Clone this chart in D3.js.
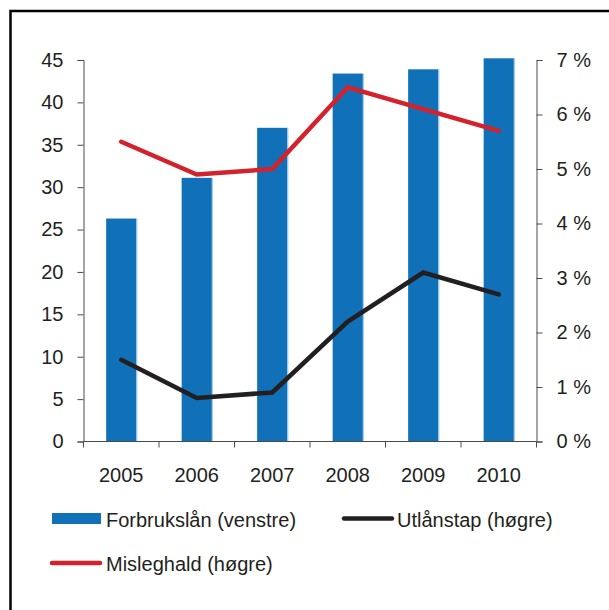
<!DOCTYPE html>
<html>
<head>
<meta charset="utf-8">
<script src="https://cdn.jsdelivr.net/npm/d3@7"></script>
<style>
  body { margin: 0; background: #fff; }
  svg text { font-family: "Liberation Sans", Arial, sans-serif; fill: #231f20; }
</style>
</head>
<body>
<div class="vis-holder"></div>
<script>
// data
const years = ['2005', '2006', '2007', '2008', '2009', '2010'];
const forbrukslan = [26.3, 31.1, 37.0, 43.4, 43.9, 45.2];     // left axis
const misleghald = [5.5, 4.9, 5.0, 6.5, 6.1, 5.7];            // right axis, %
const utlanstap = [1.5, 0.8, 0.9, 2.2, 3.1, 2.7];             // right axis, %
const leftTicks = [0, 5, 10, 15, 20, 25, 30, 35, 40, 45];
const rightTicks = [0, 1, 2, 3, 4, 5, 6, 7];

const width = 609, height = 610;
const plot = {left: 83.5, right: 536.5, top: 60, bottom: 441.5};
const fontSize = '20px';

const svg = d3.select('.vis-holder')
  .append('svg')
    .attr('width', width)
    .attr('height', height);

// outer frame (runs off the right and bottom edge)
svg.append('rect')
  .attr('x', 10.5).attr('y', 11)
  .attr('width', 605).attr('height', 610)
  .attr('fill', 'none')
  .attr('stroke', '#000')
  .attr('stroke-width', 2.5);

const x = d3.scaleBand()
  .domain(years)
  .range([plot.left, plot.right])
  .padding(0);

const yLeft = d3.scaleLinear().domain([0, 45]).range([plot.bottom, plot.top]);
const yRight = d3.scaleLinear().domain([0, 7]).range([plot.bottom, plot.top]);

// bars
const barW = x.bandwidth() * 0.4;
svg.selectAll('.bar')
  .data(years)
  .enter()
  .append('rect')
    .attr('class', 'bar')
    .attr('x', d => x(d) + (x.bandwidth() - barW) / 2)
    .attr('y', (d, i) => yLeft(forbrukslan[i]))
    .attr('width', barW)
    .attr('height', (d, i) => plot.bottom - yLeft(forbrukslan[i]))
    .attr('fill', '#1071b9');
svg.selectAll('.bar-edge')
  .data(years)
  .enter()
  .append('line')
    .attr('x1', d => x(d) + (x.bandwidth() + barW) / 2 + 0.5)
    .attr('x2', d => x(d) + (x.bandwidth() + barW) / 2 + 0.5)
    .attr('y1', (d, i) => yLeft(forbrukslan[i]))
    .attr('y2', plot.bottom)
    .attr('stroke', '#8ec2ea')
    .attr('stroke-width', 1);

// axes
const axisColor = '#4a4a4a';
function styleAxis(g) {
  g.selectAll('path, line').attr('stroke', axisColor);
  g.selectAll('text')
    .attr('font-size', fontSize)
    .attr('fill', '#231f20')
    .attr('font-family', '"Liberation Sans", Arial, sans-serif');
}

svg.append('g')
  .attr('transform', 'translate(' + plot.left + ',0)')
  .call(d3.axisLeft(yLeft).tickValues(leftTicks).tickSize(6).tickSizeOuter(6).tickPadding(14))
  .call(styleAxis);

svg.append('g')
  .attr('transform', 'translate(' + plot.right + ',0)')
  .call(d3.axisRight(yRight).tickValues(rightTicks).tickSize(6).tickSizeOuter(6).tickPadding(14)
    .tickFormat(d => d + ' %'))
  .call(styleAxis);

// x axis: ticks at category boundaries, labels at centres
const xAxisG = svg.append('g')
  .attr('transform', 'translate(0,' + plot.bottom + ')');
xAxisG.append('line')
  .attr('x1', plot.left).attr('x2', plot.right)
  .attr('stroke', axisColor);
xAxisG.selectAll('.xtick')
  .data(years.concat(['end']))
  .enter()
  .append('line')
    .attr('x1', (d, i) => i < years.length ? x(d) : plot.right)
    .attr('x2', (d, i) => i < years.length ? x(d) : plot.right)
    .attr('y1', 0).attr('y2', 6)
    .attr('stroke', axisColor);
xAxisG.selectAll('.xlabel')
  .data(years)
  .enter()
  .append('text')
    .attr('x', d => x(d) + x.bandwidth() / 2)
    .attr('y', 40)
    .attr('text-anchor', 'middle')
    .attr('font-size', fontSize)
    .text(d => d);

// lines
const line = d3.line()
  .x((d, i) => x(years[i]) + x.bandwidth() / 2)
  .y(d => yRight(d));

svg.append('path')
  .attr('d', line(misleghald))
  .attr('fill', 'none')
  .attr('stroke', '#d3222b')
  .attr('stroke-width', 4.5)
  .attr('stroke-linecap', 'round')
  .attr('stroke-linejoin', 'miter');

svg.append('path')
  .attr('d', line(utlanstap))
  .attr('fill', 'none')
  .attr('stroke', '#231f20')
  .attr('stroke-width', 4.5)
  .attr('stroke-linecap', 'round')
  .attr('stroke-linejoin', 'miter');

// legend
const legend = svg.append('g');
legend.append('rect')
  .attr('x', 52).attr('y', 513).attr('width', 49).attr('height', 11)
  .attr('fill', '#1071b9');
legend.append('text')
  .attr('x', 106).attr('y', 526.5).attr('font-size', fontSize)
  .text('Forbrukslån (venstre)');

legend.append('line')
  .attr('x1', 344).attr('x2', 392).attr('y1', 518.5).attr('y2', 518.5)
  .attr('stroke', '#231f20').attr('stroke-width', 4.5).attr('stroke-linecap', 'round');
legend.append('text')
  .attr('x', 397).attr('y', 526.5).attr('font-size', fontSize)
  .text('Utlånstap (høgre)');

legend.append('line')
  .attr('x1', 52).attr('x2', 100).attr('y1', 563).attr('y2', 563)
  .attr('stroke', '#d3222b').attr('stroke-width', 4.5).attr('stroke-linecap', 'round');
legend.append('text')
  .attr('x', 106).attr('y', 571).attr('font-size', fontSize)
  .text('Misleghald (høgre)');
</script>
</body>
</html>
